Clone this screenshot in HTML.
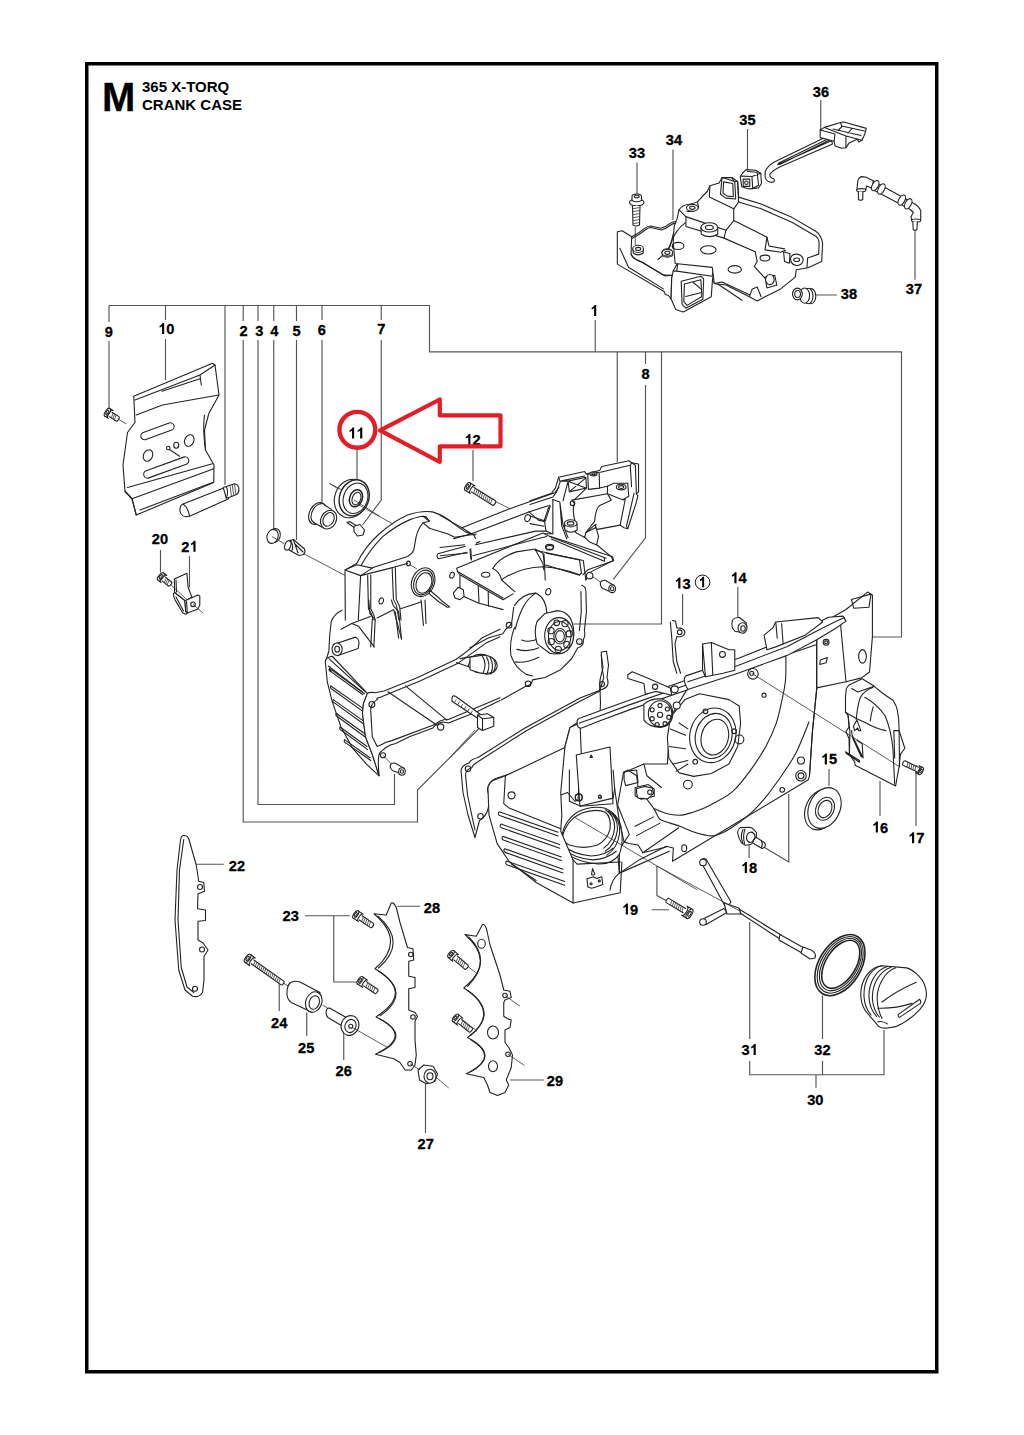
<!DOCTYPE html>
<html><head><meta charset="utf-8">
<style>
html,body{margin:0;padding:0;background:#fff;}
body{width:1024px;height:1435px;overflow:hidden;position:relative;}
svg{position:absolute;left:0;top:0;}
text{font-family:"Liberation Sans",sans-serif;font-weight:bold;fill:#000;stroke:#000;stroke-width:0.3px;}
.lb{font-size:15px;text-anchor:middle;}
.ld{stroke:#555;stroke-width:1.15;fill:none;}
.p{stroke:#222;stroke-width:1.1;fill:#fff;stroke-linejoin:round;stroke-linecap:round;}
.pn{stroke:#222;stroke-width:1.1;fill:none;stroke-linejoin:round;stroke-linecap:round;}
.t{stroke:#333;stroke-width:0.8;fill:none;}
.n{vector-effect:non-scaling-stroke;}
</style></head><body>
<svg width="1024" height="1435" viewBox="0 0 1024 1435">
<rect x="86.75" y="63.75" width="850" height="1308" fill="none" stroke="#000" stroke-width="3.5"/>
<text x="102" y="110.6" style="font-size:40px">M</text>
<text x="142" y="91.6" style="font-size:15px;stroke-width:0">365 X-TORQ</text>
<text x="142" y="109.5" style="font-size:15px;stroke-width:0">CRANK CASE</text>
<path class="ld" d="
M109 305.5 H429.5 V351.8 H901.5 V637 H872.3
M109 305.5 V322 M109 341 V409
M165.5 305.5 V320 M165.5 339 V380
M225 305.5 V485
M243.2 305.5 V321 M243.2 340 V822 H417.5 V790 L478.75 728.75
M258 305.5 V321 M258 340 V804.5 H394.5 V773.75
M273.75 305.5 V321 M273.75 340 V530
M296.5 305.5 V321 M296.5 340 V540
M322 305.5 V320 M322 340 V502.5
M381.25 305.5 V320 M381.25 340 V500 L362.5 525
M357 450 V479
M473 450 V481
M595.25 320 V351.8
M617.25 351.8 V462.5
M645.5 351.8 V364 M645.5 385 V537.8 L613.3 579.3
M661.5 351.8 V624 H573.5
M820.75 100 V134
M747.5 129 V169
M673 149.5 V220
M637 162.5 V195
M815 295 H836.8
M915 230 V279.8
M682.6 594 V625
M737.8 587 V618
M829 769 V786
M880 781 V816
M916 765 V826
M749.1 845.2 V858
M763.75 847 L788.75 862 V794
M651.7 909.7 H669
M656.9 866 V895.6 L668 901.5
M749.7 922 V1039 M749.7 1061 V1074.7 H884 V1030
M822.5 995.6 V1039 M822.5 1061 V1074.7
M816 1074.7 V1087.8
M160.5 550 V572.5
M189.5 556 V587.5
M196.25 864.25 H223.75
M305 915.75 H350 M333.75 915.75 V982 H357.5
M279.25 982.5 V1011
M306.75 1012.5 V1036
M343.75 1031 V1060
M425.5 1084 V1133
M397.5 906.25 H420
M510 1080 H543.75
"/>
<g>
<!-- 6 bushing -->
<ellipse class="p" cx="317.5" cy="513.5" rx="8" ry="11.6" transform="rotate(28 317.5 513.5)"/>
<ellipse class="pn" cx="318.6" cy="513.3" rx="6.6" ry="10.4" transform="rotate(28 318.6 513.3)"/>
<path class="p" d="M322.5,504.2 L331.5,509.2 L322,527.5 L313.5,522.5 Z" style="stroke:none"/>
<path class="pn" d="M324.5,505 L331.5,509.4 M313.5,522.3 L321.5,527"/>
<ellipse class="p" cx="328.6" cy="519.6" rx="7.6" ry="9.8" transform="rotate(28 328.6 519.6)"/>
<ellipse class="pn" cx="328.6" cy="519.4" rx="5.2" ry="7.2" transform="rotate(28 328.6 519.4)"/>
</g>
<g transform="translate(90,290) scale(0.25)">
<!-- plate 10 -->
<path class="p n" d="M175,425 L490,293 L500,300 L516,420 L475,495 L458,560 L462,640 L496,700 L495,770 L185,900 L168,835 L140,805 L132,700 L150,570 L180,530 Z"/>
<path class="pn n" d="M180,440 L440,340 L445,380 M185,500 L290,460 L515,420 M288,405 L440,355 M440,340 L500,300"/>
<path class="pn n" d="M458,500 Q450,560 462,640"/>
<path class="pn n" d="M140,805 L168,835 L495,715 M150,790 L490,695"/>
<path class="pn n" d="M168,835 L185,900 M200,880 L490,770"/>
<rect class="pn n" x="200" y="550" width="140" height="30" rx="15" transform="rotate(-20 270 565)"/>
<rect class="pn n" x="210" y="695" width="190" height="30" rx="15" transform="rotate(-20 305 710)"/>
<ellipse class="pn n" cx="232" cy="662" rx="18" ry="24" transform="rotate(25 232 662)"/>
<ellipse class="pn n" cx="397" cy="602" rx="18" ry="24" transform="rotate(25 397 602)"/>
<ellipse class="pn n" cx="345" cy="621" rx="10" ry="12"/>
<ellipse class="pn n" cx="313" cy="632" rx="7" ry="7"/>
<path class="pn n" d="M318,638 L358,665"/>
<!-- pin -->
<path class="p n" d="M372,856 L535,792 L555,835 L398,905 Q365,912 360,885 Q358,862 372,856 Z"/>
<path class="pn n" d="M372,856 Q392,868 398,905"/>
<path class="p n" d="M533,790 L545,786 L578,775 Q594,778 596,796 Q596,812 586,818 L556,830 L545,832 Z"/>
<path class="pn n" d="M545,786 Q556,808 545,832"/>
<path class="t n" d="M560,782 L566,826 M569,779 L575,823 M578,776 L584,820"/>
</g>
<g>
<ellipse class="p" cx="351" cy="498.5" rx="16.3" ry="19.6" transform="rotate(20 351 498.5)"/>
<ellipse class="p" cx="354.2" cy="497.8" rx="14.6" ry="18.4" transform="rotate(20 354.2 497.8)" style="stroke-width:1.4"/>
<ellipse class="pn" cx="355.5" cy="498.3" rx="12" ry="15.6" transform="rotate(20 355.5 498.3)"/>
<ellipse class="pn" cx="356" cy="498.3" rx="6.3" ry="8.8" transform="rotate(20 356 498.3)" style="stroke-width:1.5"/>
<ellipse class="pn" cx="356.5" cy="498.6" rx="4.2" ry="6.5" transform="rotate(20 356.5 498.6)"/>
<path class="t" d="M329.5,483.5 L338.5,489 M354,500 L380,516.5"/>
</g>
<g transform="translate(820,670) scale(0.08789)">
<path class="p n" d="M300,210 L330,170 L480,100 L610,180 L720,270 L830,345 Q870,400 880,460 L895,560 L900,690 L965,890 L915,960 L900,1100 L860,1320 L400,1085 L395,1045 L335,960 L330,780 L295,700 L330,650 L320,520 L290,480 L290,300 Z"/>
<path class="pn n" d="M290,480 Q420,560 520,600 Q640,670 750,690"/>
<path class="pn n" d="M360,210 L430,250 L600,190 M610,180 L600,200"/>
<path class="pn n" d="M600,200 Q500,235 455,320 Q425,420 412,560"/>
<path class="pn n" d="M510,310 Q650,390 740,520 Q810,680 830,900 L850,1300"/>
<path class="pn n" d="M605,420 Q580,500 572,580"/>
<path class="pn n" d="M380,640 L420,570 L465,690 L440,690 L430,660 L395,690 Z"/>
<path class="pn n" d="M360,690 L365,740 L490,1000 L480,840 L420,800 M370,770 L470,990"/>
<path class="pn n" d="M290,930 L300,950 L450,1050 L448,1030 Z"/>
<path class="pn n" d="M840,690 L900,690 M840,690 L850,1000 M900,700 L905,1100"/>
<path class="pn n" d="M320,520 L340,700 L335,960"/>
</g>
<g>
<!-- 21 clip -->
<path class="p" d="M174.3,579.1 L186.9,573.2 L188.1,587.3 L191.9,597.2 L185,600.7 L174.6,592.5 Z"/>
<path class="pn" d="M176,580 L176.5,592"/>
<path class="p" d="M174.6,592.5 L173.4,593.7 Q173.5,597 175.2,600.1 L182.8,613 L185.7,614.2 L187.5,613 L185.7,611.3 L184.9,600.7 Z"/>
<path class="pn" d="M176,597 L183.5,611"/>
<path class="p" d="M184.9,600.7 L198,594.9 L199.8,596 L199.8,604.8 L198,608.9 L187.5,613 L185.7,611.3 Z"/>
<path class="pn" d="M186.5,601.5 L187.3,612.5"/>
<circle class="pn" cx="193" cy="604.3" r="2.3"/>
<path class="t" d="M193,604.3 L203.3,613.3 M170,584 L185.7,598.6"/>
</g>
<g transform="translate(150,820) scale(0.25)">
<!-- 22 plate -->
<path class="p n" d="M135,62 Q150,62 155,75 L185,180 L195,245 L215,250 L218,285 L192,295 L190,355 L222,360 L222,402 L192,405 L192,480 L212,492 L232,520 L216,546 L216,640 L210,690 Q195,712 170,705 L140,680 L115,600 L100,400 L108,200 L122,80 Q125,62 135,62 Z"/>
<path class="pn n" d="M135,78 L118,200 L112,400 L125,590 L148,668 L175,690"/>
<circle class="pn n" cx="200" cy="268" r="10"/>
<circle class="pn n" cx="208" cy="518" r="10"/>
<circle class="pn n" cx="180" cy="675" r="10"/>
<path class="t n" d="M530,650 L555,665"/>
<!-- 25 spacer -->
<path class="p n" d="M560,652 Q575,640 600,648 L680,690 L650,770 L565,730 Q545,715 548,685 Q550,662 560,652 Z"/>
<ellipse class="p n" cx="655" cy="728" rx="32" ry="42" transform="rotate(20 655 728)"/>
<ellipse class="pn n" cx="657" cy="730" rx="20" ry="28" transform="rotate(20 657 730)"/>
<path class="t n" d="M690,740 L710,752"/>
<!-- 26 -->
<path class="p n" d="M705,765 Q705,752 718,752 L785,790 L770,825 L712,790 Q702,780 705,765 Z"/>
<ellipse class="p n" cx="800" cy="822" rx="35" ry="40" transform="rotate(20 800 822)"/>
<ellipse class="pn n" cx="802" cy="824" rx="22" ry="27" transform="rotate(20 802 824)"/>
<circle class="pn n" cx="803" cy="825" r="8"/>
<path class="t n" d="M810,830 L950,910"/>
</g>
<g transform="translate(340,880) scale(0.25)">
<!-- 28 -->
<path class="p n" d="M205,92 Q215,88 225,110 L240,170 L270,270 L292,275 L295,320 L275,325 L275,385 L300,390 L300,430 L275,435 L275,520 L300,530 L310,545 L300,565 L300,640 L305,700 L300,740 L285,760 L260,760 L240,730 L215,715 L142,697 Q298,622 144,548 Q300,449 140,355 Q266,245 136,135 L185,140 Z"/>
<path class="pn n" d="M152,145 Q272,250 154,352 M155,365 Q290,452 160,543 M160,556 Q288,625 158,690"/>
<circle class="pn n" cx="283" cy="298" r="9"/>
<circle class="pn n" cx="292" cy="548" r="9"/>
<circle class="pn n" cx="280" cy="735" r="9"/>
<!-- 29 -->
<path class="p n" d="M570,178 Q580,176 586,195 L600,260 L640,380 L655,440 L680,445 L685,470 L660,480 L655,490 L655,545 L670,555 L685,560 L680,590 L660,600 L660,650 L675,670 L690,700 L685,750 L665,800 L675,820 L660,850 L630,862 L600,850 L590,820 L575,790 L505,775 Q652,705 510,630 Q650,530 495,432 Q625,325 500,218 L545,225 Z"/>
<path class="pn n" d="M515,228 Q612,325 510,425 M512,442 Q632,532 522,622 M525,640 Q635,705 520,768"/>
<ellipse class="pn n" cx="566" cy="255" rx="15" ry="18"/>
<ellipse class="pn n" cx="612" cy="610" rx="22" ry="26"/>
<ellipse class="pn n" cx="612" cy="745" rx="18" ry="22"/>
<circle class="pn n" cx="660" cy="462" r="9"/>
<circle class="pn n" cx="672" cy="697" r="9"/>
<path class="t n" d="M660,462 L720,505 M672,697 L738,742"/>
<path class="t n" d="M510,345 L545,372 M530,590 L548,605"/>
<!-- 27 nut -->
<path class="p n" d="M312,760 L335,740 L372,745 L390,775 L380,805 L345,815 L318,800 Z"/>
<ellipse class="p n" cx="360" cy="785" rx="24" ry="28"/>
<ellipse class="pn n" cx="360" cy="785" rx="12" ry="14"/>
<path class="t n" d="M280,735 L320,760 M385,790 L435,832"/>
</g>
<g transform="translate(800,920) scale(0.13672)">
<!-- 32 o-ring -->
<ellipse class="p n" cx="292" cy="330" rx="245" ry="153" transform="rotate(-58 292 330)" style="stroke-width:1.6"/>
<ellipse class="pn n" cx="294" cy="328" rx="228" ry="138" transform="rotate(-58 294 328)"/>
<ellipse class="pn n" cx="296" cy="326" rx="212" ry="124" transform="rotate(-58 296 326)"/>
<ellipse class="pn n" cx="298" cy="324" rx="195" ry="110" transform="rotate(-58 298 324)" style="stroke-width:1.6"/>
<!-- 30 cap -->
<path class="p n" d="M600,335 Q540,340 490,400 Q440,470 445,560 Q450,640 500,690 L560,760 Q580,795 640,790 L700,780 Q800,740 880,650 Q925,600 925,540 Q920,460 870,410 Q820,360 780,350 Z"/>
<path class="pn n" d="M600,335 Q545,345 505,405 Q465,470 468,560 Q472,640 520,695 M640,340 Q580,355 540,420 Q500,490 505,570 Q510,650 560,705 M665,345 Q605,365 565,430 Q525,500 530,580 Q535,655 580,710 M700,350 Q640,370 600,440 Q560,510 565,590 Q570,660 600,720"/>
<path class="pn n" d="M600,600 Q700,520 850,455 M570,645 Q690,650 820,610 M570,745 Q600,735 640,760"/>
<path class="pn n" d="M720,690 L875,580 Q890,595 880,610 L728,712 Q712,705 720,690 Z"/>
</g>
<g>
<!-- 31 wire -->
<path class="p" d="M700.5,861 Q702,857.5 706,859 L731,902 L728,906 L725,906 Z"/>
<circle class="p" cx="703" cy="862.5" r="3.3"/>
<path class="p" d="M704,918.5 L724,908.5 L727,912.5 L706,924.5 Z"/>
<circle class="p" cx="703" cy="922" r="3.3"/>
<path class="p" d="M724,903 L739,908 L741,914 L727,914 Z"/>
<path class="pn" d="M739,909 L781,935 M740,913 L780,939"/>
<path class="p" d="M780,934.5 L804,948 L802,953 L779,940 Z"/>
<path class="p" d="M803,947 L811,950 Q817,953 815,958 L810,959 L801,953 Z"/>
<path class="t" d="M656.9,866 L740,911"/>
</g>
<g>
<!-- 18 stud -->
<path class="p" d="M755.1,836.5 L764.6,842.8 Q766.2,844.8 764.3,847.6 L762.1,848.4 L752.3,842.7 Z"/>
<path class="pn" d="M761.5,841 Q763.3,844 761.3,847.5"/>
<path class="p" d="M737.5,832.5 Q738,829 740.3,827.6 L749.5,827.3 Q752,827.8 753.7,829.4 L756.5,832.5 L756.2,836.8 L753.7,839.6 L752.3,842.7 Q751,844.8 750.5,844.5 L745.3,845.2 L741.4,842.7 Q738.5,838 737.5,832.5 Z"/>
<path class="pn" d="M743,829.5 Q740,836 742.5,842.5 M745,829 Q742.5,836 744.5,843.5"/>
<path class="pn" d="M749.5,832.5 Q753,831 755,835.5 L754.8,838.5 Q753.5,841.5 750.5,842.5 Q747.5,842.5 746.5,838.5 Q746.5,834 749.5,832.5 Z"/>
</g>
<g transform="translate(600,80) scale(0.25)">
<!-- screw 33 -->
<path class="p n" d="M118,490 Q118,478 147,476 Q176,478 176,490 Q176,502 147,504 Q118,502 118,490 Z"/>
<path class="p n" d="M128,482 L128,466 Q128,456 147,456 Q166,456 166,466 L166,482 Q147,492 128,482 Z"/>
<ellipse class="pn n" cx="147" cy="466" rx="10" ry="5"/>
<path class="p n" d="M130,504 L132,580 Q145,588 158,580 L160,504"/>
<path class="t n" d="M132,515 L158,510 M132,527 L158,522 M132,539 L158,534 M132,551 L158,546 M132,563 L158,558 M132,575 L158,570"/>
<path class="t n" d="M141,588 L141,660"/>
</g>
<g>
<!-- 38 plug -->
<ellipse class="p" cx="811" cy="296.2" rx="4.8" ry="7.6"/>
<ellipse class="p" cx="808.2" cy="296" rx="4.8" ry="7.8"/>
<ellipse class="p" cx="804.6" cy="295.6" rx="5" ry="7.6"/>
<ellipse class="p" cx="797.4" cy="294" rx="4.9" ry="5.9"/>
<ellipse class="pn" cx="797.6" cy="294" rx="2.9" ry="3.5"/>
</g>
<g transform="translate(612,200) scale(0.12695)">
<!-- left wall -->
<path class="p n" d="M42,250 L80,242 L155,290 L150,425 Q160,458 215,478 L420,598 L475,592 L470,620 L465,780 L445,752 L420,745 L410,720 L42,505 Z"/>
<path class="pn n" d="M150,425 Q165,470 240,490 L400,590 L470,595"/>
<path class="pn n" d="M62,380 L130,530 L405,700"/>
<!-- top rim wavy -->
<path class="pn n" d="M155,290 Q200,268 255,225 Q280,205 305,205 L385,222 Q420,215 445,192 Q470,170 510,168 L555,190"/>
<path class="pn n" d="M160,302 Q205,280 258,238 Q282,218 305,217 L388,236 Q425,228 450,205 Q475,182 512,180 L550,200"/>
<path class="pn n" d="M555,195 Q505,215 482,270 L462,350 Q445,395 400,435 L362,470"/>
<!-- bosses/holes -->
<path class="p n" d="M165,385 L168,420 Q205,445 245,420 L248,385"/>
<ellipse class="p n" cx="206" cy="385" rx="42" ry="28"/>
<ellipse class="pn n" cx="206" cy="385" rx="20" ry="12"/>
<path class="p n" d="M395,410 L398,440 Q435,462 475,440 L476,410"/>
<ellipse class="p n" cx="435" cy="410" rx="40" ry="26"/>
<ellipse class="pn n" cx="435" cy="410" rx="18" ry="11"/>
<ellipse class="pn n" cx="520" cy="367" rx="45" ry="28"/>
<ellipse class="pn n" cx="757" cy="392" rx="58" ry="32"/>
<ellipse class="pn n" cx="968" cy="545" rx="52" ry="28"/>
<!-- front handle box -->
<path class="p n" d="M470,620 L482,560 L520,490 L800,528 L812,560 L792,620 L782,762 L562,882 L502,862 L466,780 Z"/>
<path class="pn n" d="M520,490 L510,560 L482,560 M510,560 L790,600 L800,528"/>
<path class="p n" d="M545,640 L700,600 L722,622 L716,782 L582,852 L552,822 Z"/>
<path class="pn n" d="M570,662 L700,628 L708,760 L592,830 L566,800 Z"/>
<path class="pn n" d="M640,650 L700,700 M580,760 L700,730"/>
<!-- right of box -->
<path class="pn n" d="M792,640 L860,680 L1024,790 M815,660 L870,650 L1024,640"/>
</g>
<g transform="translate(640,160) scale(0.1953125)">
<!-- cover main silhouette (right part) -->
<path class="p n" d="M190,300 L200,255 Q215,232 245,228 Q280,222 296,212 L345,160 L358,132 L405,118 L420,90 L470,90 L500,110 L505,190 L620,225 L780,295 L900,365 Q930,385 935,430 L930,520 L860,552 L800,562 L795,600 L720,660 L640,700 L600,722 L560,700 L440,640 L380,632 L370,550 L180,530 L170,420 L175,340 Z"/>
<!-- rim inner edge -->
<path class="pn n" d="M505,215 L620,250 L780,320 L900,390 Q918,405 917,430 L915,482 L858,502 L855,552"/>
<path class="pn n" d="M500,110 L505,215 M470,90 L480,110 L500,110"/>
<!-- tab loop -->
<path class="pn n" d="M420,90 L412,175 L440,195 L490,200 L485,110 Z"/>
<path class="pn n" d="M428,112 L425,170 L448,185 L478,188 L475,120 Z"/>
<!-- raised section and steps -->
<path class="pn n" d="M358,132 L355,190 L480,250 L505,215"/>
<path class="pn n" d="M200,255 L235,290 L440,360 L480,310 L650,395 L640,460 L720,472 L745,462"/>
<path class="pn n" d="M235,290 L235,340 L430,400 L590,470 L600,520 L585,545 L640,605 L700,642"/>
<path class="pn n" d="M480,310 L480,250 M440,360 L430,400 M650,395 L660,440 L740,455"/>
<path class="pn n" d="M295,215 L300,245 Q270,270 240,262"/>
<!-- bosses/holes -->
<path class="p n" d="M312,345 L314,380 Q355,405 398,380 L398,345"/>
<ellipse class="p n" cx="355" cy="345" rx="43" ry="24"/>
<ellipse class="pn n" cx="355" cy="345" rx="20" ry="11"/>
<ellipse class="p n" cx="268" cy="245" rx="30" ry="18"/>
<ellipse class="pn n" cx="268" cy="245" rx="14" ry="8"/>
<ellipse class="pn n" cx="195" cy="440" rx="30" ry="18"/>
<ellipse class="pn n" cx="350" cy="460" rx="40" ry="21"/>
<ellipse class="pn n" cx="485" cy="560" rx="34" ry="19"/>
<ellipse class="pn n" cx="640" cy="502" rx="25" ry="15"/>
<path class="p n" d="M770,505 Q775,480 805,482 Q838,490 835,515 Q830,540 800,540 Q772,535 770,505 Z"/>
<ellipse class="pn n" cx="802" cy="511" rx="15" ry="9"/>
<path class="pn n" d="M735,470 L740,520 L765,528 L768,480 Z"/>
<path class="p n" d="M640,600 L690,590 L700,640 L650,655 Z"/>
<ellipse class="p n" cx="665" cy="612" rx="22" ry="26"/>
<!-- wire loop -->
<path class="pn n" d="M232,322 Q185,355 160,420 L140,470"/>
<ellipse class="p n" cx="140" cy="475" rx="28" ry="17"/>
<ellipse class="pn n" cx="140" cy="475" rx="13" ry="8"/>
<!-- bottom edge details -->
<path class="pn n" d="M380,632 L420,625 L560,690 M560,700 L575,660 L600,650 L620,700"/>
</g>
<g transform="translate(730,100) scale(0.14648)">
<!-- 36 latch -->
<path class="p n" d="M240,490 Q260,440 330,410 L680,240 L700,300 L350,452 Q290,480 272,508 Q268,528 300,540 Q310,555 290,562 Q255,565 240,530 Z"/>
<path class="pn n" d="M330,432 L685,258 M325,442 L692,278 M340,440 L690,268"/>
<!-- 35 grommet -->
<path class="p n" d="M85,500 L110,475 L175,480 L210,500 L215,570 L195,600 L130,607 L80,592 L70,522 Z"/>
<path class="pn n" d="M75,520 L150,522 L155,605 M150,522 L210,500 M120,488 L185,493 L195,582 L160,600"/>
<rect class="pn n" x="90" y="540" width="45" height="50"/>
<circle class="pn n" cx="112" cy="565" r="12"/>
</g>
<g>
<path class="p" d="M820.2,130 L824.4,127.4 L840.6,122.5 L843.8,122 L866.3,128.4 L864.7,134.3 L862,140.2 L858.8,141.9 L857.2,139.2 L849.2,142.9 L845.9,147.8 L841.6,148.3 L835.2,146.1 L834.1,141.3 L820.2,137.6 Z"/>
<path class="pn" d="M824.4,127.4 L846,136 L845.9,147.8 M820.2,130 L835,134 L834.1,141.3 M840.6,122.5 L841.6,126 L864.5,131 M833,129 L861,135.5 M846,136 L862,140.2 M838,130.5 L842,126.5 M848,133 L852,128.5"/>
</g>
<g>
<!-- 37 tube -->
<path class="p" d="M873.4,180.9 L912.5,202.8 Q918.5,205.5 920.7,210.6 L920.7,220 L916.4,221.6 L911.7,220 L910.9,216.9 L913.3,212.2 L909.4,209 L871.1,188.75 Z"/>
<path class="p" d="M857,188.75 L857.8,180.9 Q859,177 861.7,176.6 L865.6,177 L873.4,180.9 L871.9,188 L866.4,186 L866,189.1 L861.7,191.1 L857,190.5 Z"/>
<ellipse class="p" cx="861.3" cy="190.2" rx="4.6" ry="1.6"/>
<path class="p" d="M858.4,191.5 L858.4,199.5 Q860.5,201 862.8,199.5 L862.8,191.5"/>
<ellipse class="p" cx="916.1" cy="220.6" rx="4.6" ry="1.6"/>
<path class="p" d="M912.8,221.8 L913.2,229.5 Q915,231 917,229.5 L917.3,221.8"/>
<ellipse class="p" cx="875.2" cy="185.6" rx="3" ry="5.6" transform="rotate(29 875.2 185.6)"/>
<ellipse class="p" cx="881.4" cy="189" rx="3" ry="5.6" transform="rotate(29 881.4 189)"/>
<ellipse class="p" cx="901.8" cy="200.1" rx="3" ry="5.6" transform="rotate(29 901.8 200.1)"/>
<ellipse class="p" cx="908.2" cy="203.8" rx="3" ry="5.6" transform="rotate(29 908.2 203.8)"/>
</g>
<g>
<!-- 4 washer -->
<ellipse class="p" cx="274.6" cy="535.6" rx="5.6" ry="7.1" transform="rotate(18 274.6 535.6)"/>
<ellipse class="p" cx="272.6" cy="536.4" rx="5.6" ry="7.1" transform="rotate(18 272.6 536.4)"/>
<path class="t" d="M272,536.6 L284.5,543.8"/>
<!-- 5 cone -->
<path class="p" d="M288.5,541 L293.5,539.5 L304.5,549 Q306,552 303.5,554.5 L299,555.5 L289,550 Z"/>
<ellipse class="p" cx="287.8" cy="545.4" rx="2.9" ry="4.8" transform="rotate(20 287.8 545.4)"/>
<path class="pn" d="M291,541 Q294,547 291.5,551.5 M293.5,540 L298,553 M295,544 L303,552"/>
<path class="t" d="M303.8,553.7 L345,575.5"/>
</g>
<g transform="translate(310,440) scale(0.25)">
<!-- axis lines -->
<path class="t n" d="M80,175 L128,200 M192,258 L330,335 M740,245 L800,275"/>
<!-- screw 7 -->
<path class="p n" d="M148,330 L158,326 L190,345 L184,355 Z"/>
<path class="p n" d="M176,345 L200,338 L218,360 L212,380 L190,384 L176,366 Z"/>
</g>
<g transform="translate(300,600) scale(0.1953125)">
<!-- left bulge -->
<path class="pn n" d="M215,52 Q175,70 160,110 Q150,180 148,260 L130,320"/>
<!-- fin box -->
<path class="p n" d="M130,320 Q128,300 150,292 L165,288 L345,478 L325,530 L320,580 L335,700 L370,790 L405,900 L340,840 L270,760 L210,650 L165,520 L140,420 Z"/>
<path class="pn n" d="M148,300 L335,470 M145,338 L330,480"/>
<path class="pn n" d="M150,350 Q145,362 160,368 L322,485 M160,368 L150,350 L318,470"/>
<path class="pn n" d="M158,440 Q152,452 166,458 L322,570 M158,440 L322,555"/>
<path class="pn n" d="M170,510 Q164,522 178,528 L326,635 M170,510 L326,620"/>
<path class="pn n" d="M185,580 Q179,592 193,598 L332,700 M185,580 L332,685"/>
<path class="pn n" d="M205,650 Q199,662 213,668 L345,765 M205,650 L343,750"/>
<path class="pn n" d="M228,715 Q222,727 236,733 L362,822 M228,715 L358,808"/>
<!-- gasket flange -->
<path class="p n" style="stroke:none" d="M345,478 Q360,470 385,475 L430,466 L600,398 L800,303 Q880,248 930,195 L1024,150 L1024,515 L900,575 L760,630 L730,625 Q700,630 680,655 L560,700 L490,735 Q460,740 440,755 L410,780 Q395,800 405,900 L370,790 L335,700 L320,580 L325,530 Z"/>
<path class="pn n" d="M1024,515 L900,575 L760,630 L730,625 Q700,630 680,655 L560,700 L490,735 Q460,740 440,755 L410,780 Q395,800 405,900 L370,790 L335,700 L320,580 L325,530 L345,478 Q360,470 385,475 L430,466 L600,398 L800,303 Q880,248 930,195 L1024,150"/>
<circle class="pn n" cx="368" cy="535" r="15"/>
<circle class="pn n" cx="425" cy="795" r="13"/>
<circle class="pn n" cx="720" cy="650" r="16"/>
<path class="pn n" d="M395,510 Q390,500 405,500 L620,412 L812,322 L950,222 L1024,188"/>
<path class="pn n" d="M395,510 Q360,530 362,565 L370,700 L395,750 Q420,740 440,728 L470,720 L690,638 Q720,610 760,612 L1024,500"/>
<!-- rod inside -->
<path class="pn n" d="M450,470 L700,640 M540,440 L752,615"/>
<!-- boss -->
<path class="p n" d="M170,228 L285,190 Q302,200 302,222 L298,248 L190,285 Z"/>
<ellipse class="p n" cx="190" cy="252" rx="26" ry="32"/>
<ellipse class="pn n" cx="190" cy="252" rx="12" ry="15"/>
<!-- ribs bottom -->
<path class="pn n" d="M352,0 L358,70 L385,100 L378,240 M370,100 L362,240"/>
<path class="pn n" d="M468,0 L478,30 L505,60 L520,200 M488,60 L505,195"/>
<path class="pn n" d="M620,0 L632,130 M640,0 L645,120"/>
<path class="pn n" d="M265,120 L360,85 M395,92 L478,50 M515,45 L620,10"/>
<path class="pn n" d="M210,150 L265,120 L300,135 L380,240 M480,50 L520,200"/>
<!-- crank nose boss -->
<path class="p n" d="M880,290 Q920,270 960,285 Q1010,300 1010,340 Q1000,378 960,380 L900,370 L860,340 Z"/>
<path class="pn n" d="M920,285 Q950,320 930,375 M945,288 Q975,325 955,378 M968,292 Q995,330 978,378"/>
<path class="pn n" d="M820,300 L880,290 M800,320 L860,340"/>
<!-- dowel 2 -->
<path class="t n" d="M425,795 L468,840"/>
<path class="p n" d="M462,848 Q465,832 485,835 L535,862 L528,892 L478,875 Q460,865 462,848 Z"/>
<ellipse class="p n" cx="522" cy="878" rx="17" ry="19"/>
<ellipse class="pn n" cx="522" cy="878" rx="8" ry="9"/>
</g>
<g transform="translate(470,540) scale(0.15625)">
<!-- flange around flywheel side -->
<path class="pn n" d="M715,290 Q745,300 742,340 L745,460 L732,580 Q740,610 725,640 Q730,680 690,690 L650,760 L580,830 L480,880 L400,895 Q395,930 360,935 L200,1024"/>
<path class="pn n" d="M0,690 L120,625 L210,600 Q225,570 240,560 Q270,540 268,520 L280,430"/>
<circle class="pn n" cx="700" cy="650" r="18"/>
<circle class="pn n" cx="372" cy="920" r="18"/>
<circle class="pn n" cx="250" cy="545" r="18"/>
<path class="pn n" d="M285,560 Q250,650 262,740 Q290,820 360,860 L400,870"/>
<path class="pn n" d="M710,330 L712,460 L700,580"/>
<!-- bore -->
<path class="pn n" d="M285,420 Q330,345 420,340 Q490,370 492,480 Q488,590 440,630 Q380,660 330,640"/>
<path class="pn n" d="M420,340 Q360,380 330,450 Q300,520 290,570"/>
<path class="pn n" d="M300,700 Q380,720 440,690 M290,780 Q360,790 440,750"/>
<!-- bearing -->
<path class="p n" d="M480,470 L560,452 Q660,460 665,600 Q660,720 540,730 L510,725 L430,665 Q405,580 430,520 Z"/>
<ellipse class="p n" cx="570" cy="612" rx="92" ry="115"/>
<ellipse class="pn n" cx="574" cy="614" rx="72" ry="92"/>
<ellipse class="pn n" cx="576" cy="616" rx="40" ry="50"/>
<ellipse class="pn n" cx="576" cy="616" rx="28" ry="36"/>
<circle class="pn n" cx="608" cy="535" r="20"/><circle class="pn n" cx="635" cy="600" r="20"/><circle class="pn n" cx="620" cy="670" r="20"/>
<circle class="pn n" cx="565" cy="700" r="20"/><circle class="pn n" cx="520" cy="650" r="20"/><circle class="pn n" cx="518" cy="580" r="20"/><circle class="pn n" cx="555" cy="530" r="18"/>
<!-- crank boss bottom-left -->
<path class="p n" d="M0,750 L60,740 Q110,730 150,760 Q175,800 150,845 Q110,860 60,850 L0,830 Z"/>
<path class="pn n" d="M80,745 Q110,790 85,850 M105,748 Q135,795 110,852 M128,752 Q158,800 133,855"/>
<!-- dowel near 8 -->
<path class="p n" d="M835,270 Q845,255 865,258 L920,290 L905,335 L850,310 Q830,295 835,270 Z"/>
<ellipse class="p n" cx="910" cy="312" rx="22" ry="25"/>
<ellipse class="pn n" cx="910" cy="312" rx="11" ry="13"/>
<path class="t n" d="M780,230 L835,270"/>
</g>
<g transform="translate(320,490) scale(0.15625)">
<!-- arc outer -->
<path class="pn n" d="M160,512 L235,470 Q290,360 380,280 Q470,200 560,160 Q650,130 720,140 Q800,165 860,220 L930,268 L990,290"/>
<!-- band inner -->
<path class="pn n" d="M262,484 Q320,380 400,300 Q490,225 580,188 Q630,170 660,168 L700,200 L660,210 Q630,240 615,300 L600,385 Q590,410 560,425 L470,455 L335,498"/>
<path class="pn n" d="M660,168 L680,172 L700,200"/>
<path class="pn n" d="M700,245 L820,282 L862,302 L1000,282"/>
<path class="pn n" d="M660,210 L700,245"/>
<!-- left beam -->
<path class="p n" d="M160,512 L235,478 L335,500 L260,548 Z"/>
<path class="pn n" d="M160,520 L162,832 M260,548 L245,832"/>
<!-- wall top edge and ribs -->
<path class="pn n" d="M260,548 L470,495 L560,470"/>
<path class="pn n" d="M305,548 L310,760 L330,795 L340,832 M325,545 L325,760 L345,800 L352,832"/>
<path class="pn n" d="M462,502 L470,700 L490,740 L505,832 M482,496 L488,700 L510,745 L518,832"/>
<ellipse class="pn n" cx="392" cy="710" rx="14" ry="20" transform="rotate(20 392 710)"/>
<!-- small hole + line -->
<ellipse class="pn n" cx="566" cy="470" rx="12" ry="15"/>
<path class="t n" d="M575,478 L620,505"/>
<!-- seal ring -->
<ellipse class="p n" cx="660" cy="590" rx="72" ry="95" transform="rotate(22 660 590)"/>
<ellipse class="pn n" cx="662" cy="592" rx="60" ry="82" transform="rotate(22 662 592)"/>
<ellipse class="pn n" cx="665" cy="595" rx="48" ry="68" transform="rotate(22 665 595)"/>
<path class="p n" d="M700,640 Q740,670 780,710 L830,748 L815,750 L760,715 Q730,690 700,665 Z"/>
<!-- slot -->
<path class="pn n" d="M755,408 L930,360 M760,440 L940,398 M755,408 Q740,425 760,440"/>
<path class="pn n" d="M960,380 L965,440 M1000,340 L1024,330"/>
<ellipse class="pn n" cx="845" cy="545" rx="14" ry="20" transform="rotate(20 845 545)"/>
</g>
<g transform="translate(440,460) scale(0.13672)">
<path class="pn n" d="M0,405 L160,495 L500,360 L840,240 L870,200"/>
<path class="pn n" d="M100,575 L230,540 L650,380 L790,335"/>
<path class="pn n" d="M160,495 L230,540 M245,545 L260,575"/>
<path class="pn n" d="M260,620 L700,520 L780,520"/>
<path class="pn n" d="M0,640 L180,620 M0,700 L200,680 M240,700 L700,580 L780,560"/>
<path class="pn n" d="M650,380 L720,440 L760,450 L800,330 M720,440 L765,450 L775,520 L820,540"/>
<ellipse class="pn n" cx="640" cy="425" rx="20" ry="26" transform="rotate(20 640 425)"/>
<path class="pn n" d="M225,650 L230,731"/>
</g>
<g transform="translate(450,520) scale(0.166)">
<!-- deck -->
<path class="pn n" d="M320,470 L45,310 L40,290 L560,78 L592,95 L980,222 L986,245 L830,300 L800,330"/>
<path class="pn n" d="M45,310 L60,330 L60,450 L170,500 L320,540 M170,400 L175,500 M230,430 L232,520 M60,330 L320,480 L380,445"/>
<path class="pn n" d="M600,100 L940,230 M610,115 L930,248 L930,230"/>
<!-- cavity -->
<path class="pn n" d="M258,292 Q290,230 400,192 L512,175 L560,200 L570,270 L780,332 L790,320 M512,175 L560,262 L565,300"/>
<path class="pn n" d="M580,200 L780,240 L792,322"/>
<path class="pn n" d="M258,292 Q300,310 310,360 L390,432"/>
<path class="pn n" d="M310,360 Q420,285 560,282 Q680,290 780,330"/>

<ellipse class="pn n" cx="215" cy="330" rx="25" ry="15"/>
<ellipse class="pn n" cx="600" cy="162" rx="25" ry="15"/>
<ellipse class="pn n" cx="592" cy="432" rx="15" ry="20" transform="rotate(20 592 432)"/>
<circle class="pn n" cx="840" cy="335" r="15"/>
<!-- cone small -->
<path class="p n" d="M20,440 L50,405 L80,420 L85,460 L60,480 L30,470 Z"/>
</g>
<g transform="translate(530,450) scale(0.12695)">
<path class="pn n" d="M0,400 L170,340 L200,300 L225,215 L430,170 L445,190 L550,160 L565,130 L780,85 L800,100 L855,110 L855,330 L838,345 L850,362 L835,420 L770,620 L740,612 L712,592 L530,625 L515,610 L520,585 L500,600 L440,650 L425,680 L470,725 L530,750 L640,840 L655,870 L480,960 L440,1024"/>
<path class="pn n" d="M0,430 L180,370 L210,330 L240,245 L430,205 M240,245 L300,245 M225,215 L235,245"/>
<path class="pn n" d="M300,245 L440,215 L445,300 L310,330 Z M310,250 L440,300 M440,220 L320,320 M300,245 L260,400 M340,400 L445,300"/>
<path class="p n" d="M455,190 L545,175 L548,300 L460,310 Z"/>
<ellipse class="p n" cx="500" cy="188" rx="28" ry="16"/>
<ellipse class="pn n" cx="500" cy="188" rx="14" ry="8"/>
<path class="pn n" d="M555,175 L790,120 L800,100 M790,120 L800,290 M548,300 L610,285"/>
<path class="p n" d="M610,285 L660,262 L770,262 L778,365 L730,392 L610,345 Z"/>
<ellipse class="p n" cx="718" cy="292" rx="38" ry="22"/>
<ellipse class="pn n" cx="718" cy="292" rx="20" ry="11"/>
<path class="pn n" d="M730,392 L750,390 L710,592 M820,340 L760,600 L770,620 M800,100 L830,120 L838,345"/>
<path class="p n" d="M330,395 L610,345 L640,395 L545,440 Q515,470 510,560 L440,650 L430,690 L360,650 L355,560 Q330,480 350,420 Z"/>
<path class="pn n" d="M180,390 L235,410 L260,590 L300,690 M235,410 L250,600 L290,700"/>
<path class="pn n" d="M180,390 L180,660 L120,660"/>
<path class="p n" d="M270,580 L275,630 Q320,665 372,630 L370,580"/>
<ellipse class="p n" cx="320" cy="578" rx="50" ry="28"/>
<ellipse class="pn n" cx="320" cy="578" rx="26" ry="14"/>
<circle class="pn n" cx="335" cy="420" r="18"/>
<path class="pn n" d="M440,650 L520,610 L540,680 L525,745"/>
<path class="pn n" d="M0,520 L120,560 L160,440 M0,580 L110,600"/>
<ellipse class="pn n" cx="155" cy="770" rx="28" ry="18"/>
<path class="pn n" d="M40,790 L420,870 L440,1024 M110,820 L120,1024"/>
<circle class="p n" cx="470" cy="990" r="25"/>
</g>
<g transform="translate(450,640) scale(0.25)">
<!-- stud bolt (left half) -->
<path class="p n" d="M8,232 Q10,220 22,225 L125,300 L118,318 L8,245 Z"/>
<path class="t n" d="M25,238 L18,250 M38,247 L31,259 M51,256 L44,268 M64,265 L57,277 M77,274 L70,286 M90,283 L83,295"/>
<path class="p n" d="M110,300 L150,295 L175,310 L175,345 L130,362 L110,350 Z"/>
<path class="pn n" d="M110,300 L130,315 L175,310 M130,315 L130,362"/>
<path class="t n" d="M100,360 L0,470"/>
<!-- right half flange outline -->
<path class="p n" d="M605,48 L626,45 L634,100 L628,150 Q642,188 608,198 L520,232 L300,352 L112,470 Q82,478 76,492 Q48,500 44,522 L52,610 L72,700 L100,790 L118,722 Q145,705 152,676 L160,640 L150,600 Q150,570 180,555 L240,535 L455,445 L480,350 L510,330 L600,300 L602,250 L600,200 L615,150 L608,110 Z"/>
<path class="pn n" d="M605,60 L612,110 L600,160 L598,205 L520,245 L302,365 L110,488 Q90,500 88,510 Q62,520 62,540 L70,620 L88,705 L100,760"/>
<circle class="pn n" cx="608" cy="176" r="10"/>
<circle class="pn n" cx="72" cy="515" r="11"/>
<circle class="pn n" cx="122" cy="705" r="11"/>
<!-- pillar -->
<path class="p n" d="M480,350 L520,332 L525,450 L512,640 L500,645 L470,610 L430,625 L455,445 Z"/>
<path class="p n" d="M505,460 L640,428 L652,655 L520,665 Z"/>
<circle class="pn n" cx="515" cy="630" r="14"/>
<circle class="pn n" cx="600" cy="628" r="6"/>
<path class="pn n" d="M565,460 L570,470 L560,470 Z"/>
</g>
<g transform="translate(660,580) scale(0.25)">
<!-- 14 spacer -->
<path class="p n" d="M290,160 Q300,148 318,150 L345,172 Q352,200 335,212 L300,205 Q282,190 290,160 Z"/>
<ellipse class="p n" cx="330" cy="192" rx="18" ry="21"/>
<ellipse class="pn n" cx="332" cy="194" rx="9" ry="11"/>
<!-- 15 seal -->
<ellipse class="p n" cx="645" cy="918" rx="62" ry="85" transform="rotate(25 645 918)"/>
<ellipse class="p n" cx="658" cy="912" rx="62" ry="85" transform="rotate(25 658 912)"/>
<ellipse class="pn n" cx="660" cy="915" rx="36" ry="48" transform="rotate(25 660 915)"/>
<ellipse class="pn n" cx="660" cy="916" rx="26" ry="36" transform="rotate(25 660 916)"/>
</g>
<g transform="translate(600,600) scale(0.29297)">
<!-- face fill -->
<path class="p n" d="M300,300 L600,200 L745,150 L740,300 L725,450 L715,600 L711.3,613.4 L247.5,891.6 L250.5,846.5 L226.6,840.4 L136.5,885.4 L66.2,932.2 L60,860 L100,800 L60,700 L80,590 L150,560 L230,560 L240,400 Z"/>
<!-- big arc -->
<path class="pn n" d="M634.5,193.9 C634.3,207.1 635.4,248.4 633.2,273.0 C631.0,297.6 626.5,316.6 621.2,341.3 C615.9,366.0 610.7,394.5 601.4,421.2 C592.1,447.9 579.9,474.7 565.2,501.4 C550.5,528.1 532.0,556.0 513.4,581.3 C494.8,606.6 474.0,634.6 453.3,653.3 C432.6,671.9 405.2,683.7 389.1,693.2 C373.0,702.7 368.8,704.9 356.4,710.3 C344.0,715.6 327.7,721.3 314.7,725.3 C301.7,729.3 290.6,733.1 278.5,734.2 C266.4,735.4 253.0,733.9 242.3,732.2 C231.6,730.6 223.7,727.6 214.4,724.3 C205.1,721.0 191.1,714.4 186.4,712.4"/>
<path class="pn n" d="M713.4,416.7 C706.0,434.1 684.7,491.1 669.3,521.2 C653.9,551.3 638.6,571.9 621.2,597.3 C603.9,622.7 583.2,651.4 565.2,673.4 C547.2,695.4 533.6,711.5 513.4,729.4 C493.1,747.3 463.8,768.6 443.7,781.0 C423.6,793.4 407.4,800.5 392.9,804.0 C378.3,807.5 369.4,804.1 356.4,801.8 C343.4,799.5 328.7,795.2 314.7,790.2 C300.7,785.2 287.8,777.7 272.4,772.1 C257.0,766.5 233.9,760.7 222.2,756.4 C210.5,752.1 208.0,752.1 202.4,746.1 C196.8,740.1 192.4,727.2 188.4,720.2 C184.4,713.2 183.2,710.9 178.5,704.2 C173.8,697.6 163.4,684.3 160.4,680.3"/>
<path class="pn n" d="M745,150 L740,300 L725,450 L715,600"/>
<!-- flywheel bore -->
<path class="p n" d="M240,400 L290,340 L340,320 L440,340 L475,362 L480,420 L470,500 L440,560 L380,592 L320,602 L270,590 L235,540 L230,470 Z"/>
<ellipse class="p n" cx="385" cy="462" rx="78" ry="94" transform="rotate(15 385 462)"/>
<ellipse class="pn n" cx="388" cy="464" rx="62" ry="78" transform="rotate(15 388 464)"/>
<ellipse class="pn n" cx="392" cy="468" rx="46" ry="62" transform="rotate(15 392 468)"/>
<circle class="pn n" cx="360" cy="380" r="8"/><circle class="pn n" cx="458" cy="448" r="8"/><circle class="pn n" cx="325" cy="552" r="8"/>
<path class="pn n" d="M240,440 L292,462 M236,500 L292,508 M250,560 L300,548 M270,420 L300,440 M260,585 L300,560"/>
<!-- holes -->
<circle class="pn n" cx="560" cy="325" r="7"/>
<circle class="pn n" cx="476" cy="476" r="15"/>
<circle class="pn n" cx="300" cy="630" r="15"/>
<circle class="pn n" cx="686" cy="548" r="12"/>
<circle class="p n" cx="686" cy="600" r="18"/><circle class="pn n" cx="686" cy="600" r="10"/>
<circle class="pn n" cx="622" cy="648" r="8"/>
<circle class="p n" cx="522" cy="252" r="18"/><circle class="pn n" cx="518" cy="250" r="7"/>
<!-- rail -->
<path class="p n" d="M-78,418 Q-80,405 -65,402 L0,378 L100,342 L293,274 L300,306 L100,375 L0,412 L-65,438 Q-80,435 -78,418 Z"/>
<path class="pn n" d="M-70,420 L0,395 L100,358 L295,290"/>
<!-- right block -->
<path class="p n" d="M739.6,136 L792,60 L839.7,32.4 L913,-27 L929.8,-17.4 L929.8,126 L919.9,245.8 L893,265.9 L839.7,279.2 L739.6,300 Z"/>
<path class="pn n" d="M820,72.5 L839.7,279.2 M739.6,136 L739.6,300"/>
<path class="pn n" d="M858,-2 L925,-20 L918,25 L866,28 Z"/>
<circle class="pn n" cx="771.8" cy="144.4" r="10"/><circle class="pn n" cx="771.8" cy="144.4" r="5"/>
<ellipse class="pn n" cx="896" cy="192.5" rx="13" ry="23"/>
<path class="pn n" d="M752,205 L776,196 L772,214 L750,220 Z"/>
<!-- thick rail -->
<path class="p n" d="M293,259 Q280,270 299.6,305.8 L473,249 L639.6,189 L739.6,135.9 L806.4,95.6 L839.7,72 L829,55 L779.6,59 L739.6,79.2 L606.5,145.8 L473,199 Z"/>
<path class="pn n" d="M299.6,279.2 L473,222.6 L639.6,159 L753,99 L806.4,72.5 L835,60"/>
<!-- housing above rail -->
<path class="p n" d="M350,150 L380,145 L440,170 L460,170 L460,240 L420,250 L360,262 L350,240 Z"/>
<circle class="pn n" cx="418" cy="186" r="10"/>
<path class="pn n" d="M350,150 L360,262 M380,145 L385,255"/>
<path class="p n" d="M560,120 L590,95 L600,75 L745,60 L760,75 L700,120 L600,160 L570,170 Z"/>
<path class="pn n" d="M600,75 L605,130 M620,80 L625,150"/>
<!-- fan wheel -->
<path class="p n" d="M150,355 Q175,335 210,338 Q250,348 248,392 Q245,430 205,435 Q165,432 150,410 Z"/>
<ellipse class="pn n" cx="205" cy="388" rx="40" ry="44"/>
<circle class="pn n" cx="205" cy="392" r="9"/>
<circle class="pn n" cx="205" cy="360" r="7"/><circle class="pn n" cx="230" cy="372" r="7"/><circle class="pn n" cx="235" cy="400" r="7"/><circle class="pn n" cx="222" cy="422" r="7"/><circle class="pn n" cx="195" cy="425" r="7"/><circle class="pn n" cx="178" cy="405" r="7"/><circle class="pn n" cx="178" cy="375" r="7"/>
<!-- platform left -->
<path class="p n" d="M95,255 L110,245 L160,265 L240,300 L245,325 L190,312 L155,322 L150,285 L95,268 Z"/>
<circle class="pn n" cx="188" cy="296" r="9"/>
<circle class="p n" cx="255" cy="305" r="12"/>
<circle class="p n" cx="262" cy="360" r="12"/>
<!-- 13 gasket strip -->
<path class="pn n" d="M247,70 L258,72 L262,95 Q290,95 290,112 Q285,128 262,125 L256,150 L262,210 L275,250 M240,75 L245,130 L250,210 L262,250"/>
<circle class="pn n" cx="272" cy="110" r="8"/>
<!-- bottom-left bits -->
<path class="pn n" d="M80,590 L95,580 L125,600 L130,640 M150,560 L160,600 L210,640"/>
<path class="p n" d="M120,640 L165,630 L185,645 L185,670 L140,680 L120,668 Z"/>
<circle class="pn n" cx="172" cy="654" r="7"/>
<path class="t n" d="M518,250 L1024,570"/>
</g>
<g transform="translate(560,770) scale(0.15625)">
<!-- intake/cylinder bore -->
<path class="p n" d="M10,440 Q20,330 110,270 Q200,225 290,245 Q370,280 390,360 Q410,460 380,540 Q330,610 230,600 Q120,590 50,540 Q10,500 10,440 Z"/>
<path class="pn n" d="M15,430 Q40,320 140,275 Q230,245 290,270 Q330,300 320,380 Q300,450 240,480 Q150,510 60,480 Q20,465 15,430 Z"/>
<path class="pn n" d="M290,255 Q350,290 350,370 Q340,460 280,500 M310,262 Q370,300 368,380 Q355,480 290,520 M335,275 Q385,320 382,400 Q370,500 300,545"/>
<path class="pn n" d="M20,480 Q80,540 200,550 Q290,545 340,500 M30,510 Q100,570 210,575 Q300,570 360,520"/>
<path class="pn n" d="M340,0 L350,120 L380,330 L410,460 L440,470 L500,480 L525,520 L530,530 L680,493"/>
<path class="pn n" d="M60,0 L60,200 L130,230 L340,180 L350,120"/>
<circle class="pn n" cx="120" cy="175" r="22"/>
<circle class="pn n" cx="255" cy="170" r="9"/>
<path class="p n" d="M490,120 L540,105 L590,115 L600,150 L560,185 L500,180 L490,150 Z"/>
<circle class="pn n" cx="575" cy="142" r="14"/>
<path class="pn n" d="M410,10 L490,0 L500,80 L420,100 L410,60 Z"/>
<path class="pn n" d="M480,360 L600,300 M490,420 L640,340 M530,530 L760,370"/>
<ellipse class="pn n" cx="795" cy="500" rx="16" ry="22"/>
<path class="pn n" d="M380,660 L700,520 M380,540 L380,660 Q330,700 320,768"/>
<path class="t n" d="M90,300 L880,768"/>
</g>
<g transform="translate(450,700) scale(0.2051)">
<!-- fin box (right half) -->
<path class="p n" d="M185,430 Q190,400 215,390 L265,372 L560,232 L540,450 L545,560 L540,640 L600,780 L600,990 L420,890 L330,820 L290,790 L230,700 L190,560 Z"/>
<path class="pn n" d="M270,372 L262,505 L285,525 L540,628"/>
<circle class="pn n" cx="300" cy="465" r="17"/>
<path class="pn n" d="M527,645 L240,545 Q230,555 242,563 L527,663 M535,705 L249,605 Q239,615 251,623 L535,723 M543,765 L258,665 Q248,675 260,683 L543,783 M551,825 L267,725 Q257,735 269,743 L551,843 M559,885 L276,785 Q266,795 278,803 L559,903"/>
<path class="pn n" d="M300,800 L420,880"/>
<path class="pn n" d="M600,990 L830,940 L838,790"/>
<path class="pn n" d="M600,780 L620,800 L830,790"/>
<!-- oil symbol -->
<path class="pn n" d="M695,822 L706,848 Q700,858 690,850 Z"/>
<path class="pn n" d="M668,872 L700,862 L715,870 L740,862 L745,900 L712,912 L690,918 L672,912 Z"/>
<circle class="pn n" cx="688" cy="896" r="5"/><circle class="pn n" cx="728" cy="882" r="5"/>
</g><path class="p" d="M353.24,918.15 L358.21,921.50 A1.98,4.40 34.0 0 1 363.13,914.21 L358.16,910.85 Z"/>
<path class="p" d="M359.22,920.01 L370.55,927.66 A1.17,2.60 34.0 0 0 373.45,923.34 L362.13,915.70"/>
<path class="t" d="M361.54,921.58 L363.45,916.60 M363.36,922.81 L365.28,917.83 M365.19,924.04 L367.10,919.06 M367.01,925.27 L368.92,920.29 M368.83,926.50 L370.75,921.52 "/>
<ellipse class="p" cx="355.70" cy="914.50" rx="1.98" ry="4.40" transform="rotate(34.0 355.70 914.50)"/>
<ellipse class="pn" cx="355.70" cy="914.50" rx="0.99" ry="2.20" transform="rotate(34.0 355.70 914.50)"/>
<path class="p" d="M357.54,984.05 L362.51,987.40 A1.98,4.40 34.0 0 1 367.43,980.11 L362.46,976.75 Z"/>
<path class="p" d="M363.52,985.91 L374.85,993.56 A1.17,2.60 34.0 0 0 377.75,989.24 L366.43,981.60"/>
<path class="t" d="M365.84,987.48 L367.75,982.50 M367.66,988.71 L369.58,983.73 M369.49,989.94 L371.40,984.96 M371.31,991.17 L373.22,986.19 M373.13,992.40 L375.05,987.42 "/>
<ellipse class="p" cx="360.00" cy="980.40" rx="1.98" ry="4.40" transform="rotate(34.0 360.00 980.40)"/>
<ellipse class="pn" cx="360.00" cy="980.40" rx="0.99" ry="2.20" transform="rotate(34.0 360.00 980.40)"/>
<path class="p" d="M244.83,962.32 L249.74,965.78 A2.16,4.80 35.2 0 1 255.27,957.93 L250.37,954.48 Z"/>
<path class="p" d="M251.18,963.74 L281.17,984.88 A1.03,2.30 35.2 0 0 283.83,981.12 L253.83,959.98"/>
<path class="t" d="M253.47,965.35 L255.14,960.90 M255.27,966.62 L256.94,962.17 M257.06,967.88 L258.73,963.43 M258.86,969.15 L260.53,964.70 M260.66,970.42 L262.33,965.97 M262.46,971.69 L264.13,967.24 M264.26,972.95 L265.93,968.50 M266.05,974.22 L267.72,969.77 M267.85,975.49 L269.52,971.04 M269.65,976.76 L271.32,972.31 M271.45,978.02 L273.12,973.57 M273.25,979.29 L274.92,974.84 M275.05,980.56 L276.72,976.11 M276.84,981.83 L278.51,977.38 M278.64,983.09 L280.31,978.64 "/>
<ellipse class="p" cx="247.60" cy="958.40" rx="2.16" ry="4.80" transform="rotate(35.2 247.60 958.40)"/>
<ellipse class="pn" cx="247.60" cy="958.40" rx="1.08" ry="2.40" transform="rotate(35.2 247.60 958.40)"/>
<path class="p" d="M448.14,957.34 L452.69,961.25 A1.98,4.40 40.6 0 1 458.42,954.56 L453.86,950.66 Z"/>
<path class="p" d="M453.86,959.88 L464.71,969.17 A1.17,2.60 40.6 0 0 468.09,965.23 L457.25,955.93"/>
<path class="t" d="M455.99,961.70 L458.46,956.97 M457.66,963.13 L460.13,958.40 M459.33,964.56 L461.80,959.84 M461.00,966.00 L463.47,961.27 M462.67,967.43 L465.14,962.70 "/>
<ellipse class="p" cx="451.00" cy="954.00" rx="1.98" ry="4.40" transform="rotate(40.6 451.00 954.00)"/>
<ellipse class="pn" cx="451.00" cy="954.00" rx="0.99" ry="2.20" transform="rotate(40.6 451.00 954.00)"/>
<path class="p" d="M452.67,1021.25 L457.37,1024.97 A1.98,4.40 38.4 0 1 462.84,1018.08 L458.13,1014.35 Z"/>
<path class="p" d="M458.49,1023.56 L469.19,1032.04 A1.17,2.60 38.4 0 0 472.41,1027.96 L461.72,1019.49"/>
<path class="t" d="M460.68,1025.30 L462.97,1020.48 M462.41,1026.67 L464.70,1021.85 M464.13,1028.03 L466.42,1023.21 M465.86,1029.40 L468.15,1024.58 M467.58,1030.77 L469.87,1025.95 "/>
<ellipse class="p" cx="455.40" cy="1017.80" rx="1.98" ry="4.40" transform="rotate(38.4 455.40 1017.80)"/>
<ellipse class="pn" cx="455.40" cy="1017.80" rx="0.99" ry="2.20" transform="rotate(38.4 455.40 1017.80)"/>
<path class="p" d="M465.12,490.32 L470.21,493.49 A2.02,4.50 31.9 0 1 474.97,485.85 L469.88,482.68 Z"/>
<path class="p" d="M471.22,491.88 L492.63,505.21 A1.17,2.60 31.9 0 0 495.37,500.79 L473.97,487.46"/>
<path class="t" d="M473.60,493.36 L475.33,488.31 M475.46,494.52 L477.19,489.47 M477.33,495.68 L479.06,490.64 M479.20,496.85 L480.93,491.80 M481.07,498.01 L482.80,492.96 M482.93,499.17 L484.66,494.12 M484.80,500.34 L486.53,495.29 M486.67,501.50 L488.40,496.45 M488.54,502.66 L490.27,497.61 M490.40,503.82 L492.13,498.78 "/>
<ellipse class="p" cx="467.50" cy="486.50" rx="2.02" ry="4.50" transform="rotate(31.9 467.50 486.50)"/>
<ellipse class="pn" cx="467.50" cy="486.50" rx="1.01" ry="2.25" transform="rotate(31.9 467.50 486.50)"/>
<path class="p" d="M692.24,909.26 L687.11,906.16 A2.38,5.30 -148.8 0 1 681.62,915.23 L686.76,918.34 Z"/>
<path class="p" d="M685.66,908.56 L668.79,898.36 A1.12,2.50 -148.8 0 0 666.21,902.64 L683.07,912.84"/>
<path class="t" d="M683.26,907.11 L681.70,912.01 M681.38,905.97 L679.82,910.87 M679.50,904.83 L677.94,909.73 M677.61,903.69 L676.05,908.59 M675.73,902.56 L674.17,907.45 M673.85,901.42 L672.29,906.32 M671.97,900.28 L670.41,905.18 "/>
<ellipse class="p" cx="689.50" cy="913.80" rx="2.38" ry="5.30" transform="rotate(-148.8 689.50 913.80)"/>
<ellipse class="pn" cx="689.50" cy="913.80" rx="1.19" ry="2.65" transform="rotate(-148.8 689.50 913.80)"/>
<path class="p" d="M922.70,767.38 L919.08,765.68 A1.80,4.00 -154.8 0 1 915.68,772.92 L919.30,774.62 Z"/>
<path class="p" d="M918.40,767.13 L905.02,760.83 A1.08,2.40 -154.8 0 0 902.98,765.17 L916.36,771.47"/>
<path class="t" d="M915.87,765.93 L914.91,770.79 M913.88,765.00 L912.92,769.85 M911.89,764.06 L910.93,768.91 M909.90,763.12 L908.94,767.98 M907.91,762.19 L906.95,767.04 "/>
<ellipse class="p" cx="921.00" cy="771.00" rx="1.80" ry="4.00" transform="rotate(-154.8 921.00 771.00)"/>
<ellipse class="pn" cx="921.00" cy="771.00" rx="0.90" ry="2.00" transform="rotate(-154.8 921.00 771.00)"/><path class="p" d="M157.92,580.18 L161.03,582.69 A2.07,4.60 38.8 0 1 166.80,575.52 L163.68,573.02 Z"/>
<path class="p" d="M162.35,581.06 L168.43,585.95 A1.12,2.50 38.8 0 0 171.57,582.05 L165.48,577.16"/>
<path class="t" d="M164.22,582.56 L166.42,577.91 M165.62,583.69 L167.82,579.04 M167.03,584.82 L169.22,580.17 "/>
<ellipse class="p" cx="160.80" cy="576.60" rx="2.07" ry="4.60" transform="rotate(38.8 160.80 576.60)"/>
<ellipse class="pn" cx="160.80" cy="576.60" rx="1.03" ry="2.30" transform="rotate(38.8 160.80 576.60)"/>
<path class="p" d="M104.85,416.19 L108.23,418.32 A2.07,4.60 32.3 0 1 113.14,410.54 L109.75,408.41 Z"/>
<path class="p" d="M109.30,416.63 L116.21,421.00 A1.17,2.60 32.3 0 0 118.99,416.60 L112.07,412.24"/>
<path class="t" d="M111.32,417.91 L113.09,412.88 M112.85,418.87 L114.61,413.84 M114.37,419.84 L116.13,414.80 "/>
<ellipse class="p" cx="107.30" cy="412.30" rx="2.07" ry="4.60" transform="rotate(32.3 107.30 412.30)"/>
<ellipse class="pn" cx="107.30" cy="412.30" rx="1.03" ry="2.30" transform="rotate(32.3 107.30 412.30)"/>
<path class="t" d="M117.6,418.8 L126,423.8"/><text x="0" y="0" transform="translate(812.87,96.51) scale(0.95,1)" style="font-size:15.4px">3</text>
<text x="0" y="0" transform="translate(821.00,96.51) scale(0.95,1)" style="font-size:15.4px">6</text>
<text x="0" y="0" transform="translate(739.37,124.51) scale(0.95,1)" style="font-size:15.4px">3</text>
<text x="0" y="0" transform="translate(747.50,124.51) scale(0.95,1)" style="font-size:15.4px">5</text>
<text x="0" y="0" transform="translate(665.87,145.01) scale(0.95,1)" style="font-size:15.4px">3</text>
<text x="0" y="0" transform="translate(674.00,145.01) scale(0.95,1)" style="font-size:15.4px">4</text>
<text x="0" y="0" transform="translate(628.87,157.51) scale(0.95,1)" style="font-size:15.4px">3</text>
<text x="0" y="0" transform="translate(637.00,157.51) scale(0.95,1)" style="font-size:15.4px">3</text>
<text x="0" y="0" transform="translate(840.77,299.31) scale(0.95,1)" style="font-size:15.4px">3</text>
<text x="0" y="0" transform="translate(848.90,299.31) scale(0.95,1)" style="font-size:15.4px">8</text>
<text x="0" y="0" transform="translate(905.77,294.01) scale(0.95,1)" style="font-size:15.4px">3</text>
<text x="0" y="0" transform="translate(913.90,294.01) scale(0.95,1)" style="font-size:15.4px">7</text>
<text x="0" y="0" transform="translate(104.68,336.76) scale(0.95,1)" style="font-size:15.4px">9</text>
<path d="M164.16,334.01 L164.16,322.99 L162.50,322.99 Q162.07,324.16 160.90,325.00 Q160.16,325.54 159.58,325.70 L159.58,327.62 Q160.60,327.31 162.02,326.31 L162.02,334.01 Z" fill="#000"/>
<text x="0" y="0" transform="translate(166.25,334.01) scale(0.95,1)" style="font-size:15.4px">0</text>
<text x="0" y="0" transform="translate(239.43,335.51) scale(0.95,1)" style="font-size:15.4px">2</text>
<text x="0" y="0" transform="translate(255.18,335.51) scale(0.95,1)" style="font-size:15.4px">3</text>
<text x="0" y="0" transform="translate(270.18,335.51) scale(0.95,1)" style="font-size:15.4px">4</text>
<text x="0" y="0" transform="translate(292.43,335.51) scale(0.95,1)" style="font-size:15.4px">5</text>
<text x="0" y="0" transform="translate(317.68,335.01) scale(0.95,1)" style="font-size:15.4px">6</text>
<text x="0" y="0" transform="translate(377.18,334.26) scale(0.95,1)" style="font-size:15.4px">7</text>
<path d="M596.23,316.01 L596.23,304.99 L594.57,304.99 Q594.13,306.16 592.96,307.00 Q592.23,307.54 591.65,307.70 L591.65,309.62 Q592.67,309.31 594.09,308.31 L594.09,316.01 Z" fill="#000"/>
<text x="0" y="0" transform="translate(641.43,379.26) scale(0.95,1)" style="font-size:15.4px">8</text>
<path d="M354.16,438.51 L354.16,427.49 L352.50,427.49 Q352.07,428.66 350.90,429.50 Q350.16,430.04 349.58,430.20 L349.58,432.12 Q350.60,431.81 352.02,430.81 L352.02,438.51 Z" fill="#000"/>
<path d="M362.29,438.51 L362.29,427.49 L360.64,427.49 Q360.20,428.66 359.03,429.50 Q358.30,430.04 357.71,430.20 L357.71,432.12 Q358.74,431.81 360.16,430.81 L360.16,438.51 Z" fill="#000"/>
<path d="M470.41,445.01 L470.41,433.99 L468.75,433.99 Q468.32,435.16 467.15,436.00 Q466.41,436.54 465.83,436.70 L465.83,438.62 Q466.85,438.31 468.27,437.31 L468.27,445.01 Z" fill="#000"/>
<text x="0" y="0" transform="translate(472.50,445.01) scale(0.95,1)" style="font-size:15.4px">2</text>
<path d="M680.41,588.51 L680.41,577.49 L678.75,577.49 Q678.32,578.66 677.15,579.50 Q676.41,580.04 675.83,580.20 L675.83,582.12 Q676.85,581.81 678.27,580.81 L678.27,588.51 Z" fill="#000"/>
<text x="0" y="0" transform="translate(682.50,588.51) scale(0.95,1)" style="font-size:15.4px">3</text>
<path d="M736.51,583.21 L736.51,572.19 L734.85,572.19 Q734.42,573.36 733.25,574.20 Q732.51,574.74 731.93,574.90 L731.93,576.82 Q732.95,576.51 734.37,575.51 L734.37,583.21 Z" fill="#000"/>
<text x="0" y="0" transform="translate(738.60,583.21) scale(0.95,1)" style="font-size:15.4px">4</text>
<path d="M826.91,764.41 L826.91,753.39 L825.25,753.39 Q824.82,754.56 823.65,755.40 Q822.91,755.94 822.33,756.10 L822.33,758.02 Q823.35,757.71 824.77,756.71 L824.77,764.41 Z" fill="#000"/>
<text x="0" y="0" transform="translate(829.00,764.41) scale(0.95,1)" style="font-size:15.4px">5</text>
<path d="M877.91,832.51 L877.91,821.49 L876.25,821.49 Q875.82,822.66 874.65,823.50 Q873.91,824.04 873.33,824.20 L873.33,826.12 Q874.35,825.81 875.77,824.81 L875.77,832.51 Z" fill="#000"/>
<text x="0" y="0" transform="translate(880.00,832.51) scale(0.95,1)" style="font-size:15.4px">6</text>
<path d="M914.16,843.31 L914.16,832.29 L912.50,832.29 Q912.07,833.46 910.90,834.30 Q910.16,834.84 909.58,835.00 L909.58,836.92 Q910.60,836.61 912.02,835.61 L912.02,843.31 Z" fill="#000"/>
<text x="0" y="0" transform="translate(916.25,843.31) scale(0.95,1)" style="font-size:15.4px">7</text>
<path d="M746.91,873.01 L746.91,861.99 L745.25,861.99 Q744.82,863.16 743.65,864.00 Q742.91,864.54 742.33,864.70 L742.33,866.62 Q743.35,866.31 744.77,865.31 L744.77,873.01 Z" fill="#000"/>
<text x="0" y="0" transform="translate(749.00,873.01) scale(0.95,1)" style="font-size:15.4px">8</text>
<path d="M627.91,914.51 L627.91,903.49 L626.25,903.49 Q625.82,904.66 624.65,905.50 Q623.91,906.04 623.33,906.20 L623.33,908.12 Q624.35,907.81 625.77,906.81 L625.77,914.51 Z" fill="#000"/>
<text x="0" y="0" transform="translate(630.00,914.51) scale(0.95,1)" style="font-size:15.4px">9</text>
<text x="0" y="0" transform="translate(151.87,544.26) scale(0.95,1)" style="font-size:15.4px">2</text>
<text x="0" y="0" transform="translate(160.00,544.26) scale(0.95,1)" style="font-size:15.4px">0</text>
<text x="0" y="0" transform="translate(181.37,551.76) scale(0.95,1)" style="font-size:15.4px">2</text>
<path d="M195.54,551.76 L195.54,540.74 L193.89,540.74 Q193.45,541.91 192.28,542.75 Q191.55,543.29 190.96,543.45 L190.96,545.37 Q191.99,545.06 193.41,544.06 L193.41,551.76 Z" fill="#000"/>
<text x="0" y="0" transform="translate(228.87,871.01) scale(0.95,1)" style="font-size:15.4px">2</text>
<text x="0" y="0" transform="translate(237.00,871.01) scale(0.95,1)" style="font-size:15.4px">2</text>
<text x="0" y="0" transform="translate(282.62,921.26) scale(0.95,1)" style="font-size:15.4px">2</text>
<text x="0" y="0" transform="translate(290.75,921.26) scale(0.95,1)" style="font-size:15.4px">3</text>
<text x="0" y="0" transform="translate(271.12,1027.51) scale(0.95,1)" style="font-size:15.4px">2</text>
<text x="0" y="0" transform="translate(279.25,1027.51) scale(0.95,1)" style="font-size:15.4px">4</text>
<text x="0" y="0" transform="translate(298.12,1052.51) scale(0.95,1)" style="font-size:15.4px">2</text>
<text x="0" y="0" transform="translate(306.25,1052.51) scale(0.95,1)" style="font-size:15.4px">5</text>
<text x="0" y="0" transform="translate(335.62,1075.51) scale(0.95,1)" style="font-size:15.4px">2</text>
<text x="0" y="0" transform="translate(343.75,1075.51) scale(0.95,1)" style="font-size:15.4px">6</text>
<text x="0" y="0" transform="translate(417.57,1148.51) scale(0.95,1)" style="font-size:15.4px">2</text>
<text x="0" y="0" transform="translate(425.70,1148.51) scale(0.95,1)" style="font-size:15.4px">7</text>
<text x="0" y="0" transform="translate(423.87,913.01) scale(0.95,1)" style="font-size:15.4px">2</text>
<text x="0" y="0" transform="translate(432.00,913.01) scale(0.95,1)" style="font-size:15.4px">8</text>
<text x="0" y="0" transform="translate(546.87,1085.51) scale(0.95,1)" style="font-size:15.4px">2</text>
<text x="0" y="0" transform="translate(555.00,1085.51) scale(0.95,1)" style="font-size:15.4px">9</text>
<text x="0" y="0" transform="translate(807.17,1104.91) scale(0.95,1)" style="font-size:15.4px">3</text>
<text x="0" y="0" transform="translate(815.30,1104.91) scale(0.95,1)" style="font-size:15.4px">0</text>
<text x="0" y="0" transform="translate(741.57,1054.91) scale(0.95,1)" style="font-size:15.4px">3</text>
<path d="M755.74,1054.91 L755.74,1043.89 L754.09,1043.89 Q753.65,1045.06 752.48,1045.90 Q751.75,1046.44 751.16,1046.60 L751.16,1048.52 Q752.19,1048.21 753.61,1047.21 L753.61,1054.91 Z" fill="#000"/>
<text x="0" y="0" transform="translate(814.37,1054.91) scale(0.95,1)" style="font-size:15.4px">3</text>
<text x="0" y="0" transform="translate(822.50,1054.91) scale(0.95,1)" style="font-size:15.4px">2</text>
<circle cx="702.6" cy="582.3" r="7.3" fill="none" stroke="#111" stroke-width="1"/>
<path d="M704.12,587.15 L704.12,576.77 L702.60,576.77 Q702.19,577.87 701.11,578.67 Q700.44,579.17 699.90,579.32 L699.90,581.13 Q700.84,580.84 702.15,579.90 L702.15,587.15 Z" fill="#000"/>
<circle cx="357.35" cy="429.8" r="17.9" fill="none" stroke="#e31e26" stroke-width="4.4"/>
<path d="M380 430.4 L439.8 399.5 V415.4 H500.5 V446.3 H439.8 V462 Z" fill="none" stroke="#e31e26" stroke-width="4.2" stroke-linejoin="round"/>
</svg></body></html>
